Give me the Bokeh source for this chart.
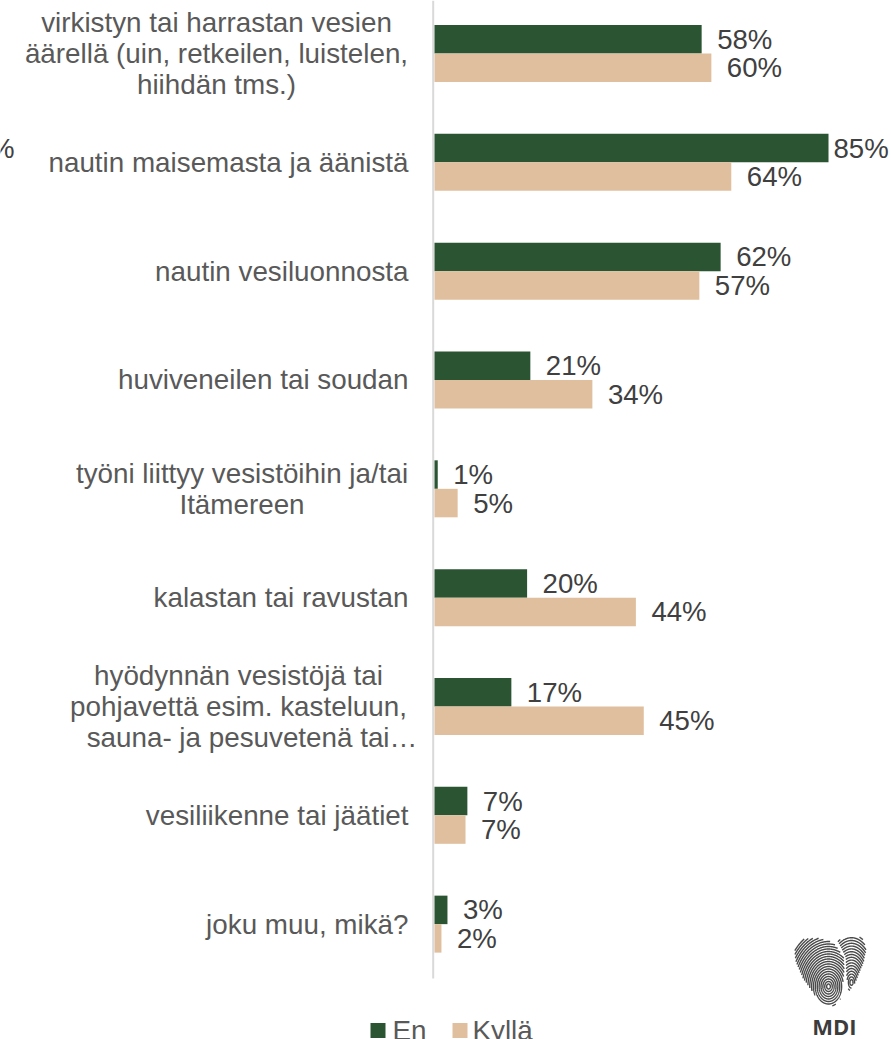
import numpy as np
from bokeh.plotting import figure
from bokeh.models import Range1d, ColumnDataSource
from bokeh.core.properties import value
from bokeh.embed import file_html
from bokeh.resources import INLINE

categories = [
    ["virkistyn tai harrastan vesien", "äärellä (uin, retkeilen, luistelen,", "hiihdän tms.)"],
    ["nautin maisemasta ja äänistä"],
    ["nautin vesiluonnosta"],
    ["huviveneilen tai soudan"],
    ["työni liittyy vesistöihin ja/tai", "Itämereen"],
    ["kalastan tai ravustan"],
    ["hyödynnän vesistöjä tai", "pohjavettä esim. kasteluun,", "sauna- ja pesuvetenä tai…"],
    ["vesiliikenne tai jäätiet"],
    ["joku muu, mikä?"],
]
en = [57.7, 85.1, 61.8, 20.7, 0.7, 20.0, 16.6, 7.1, 2.8]
kylla = [59.8, 64.1, 57.2, 34.1, 5.0, 43.5, 45.2, 6.7, 1.5]
en_labels = ["58%", "85%", "62%", "21%", "1%", "20%", "17%", "7%", "3%"]
kylla_labels = ["60%", "64%", "57%", "34%", "5%", "44%", "45%", "7%", "2%"]
DARK, TAN = "#2B5433", "#E0BF9E"
LABEL, VALUE = "#595959", "#404040"
FONT = value("Liberation Sans")
W, H = 891, 1039
X0, PX = 434.0, 4.63        # pixel of 0 %, pixels per 1 %
Y0, STEP = 53.0, 108.83     # centre of the first group, group pitch
BAR = 28.5 / STEP

p = figure(width=W, height=H, output_backend="svg", toolbar_location=None,
           x_range=Range1d(-X0 / PX, (W - X0) / PX),
           y_range=Range1d((H - Y0) / STEP, -Y0 / STEP),
           min_border=0, outline_line_color=None, x_axis_type=None, y_axis_type=None,
           margin=(0, 0, 0, 0))
p.grid.visible = False

def px(x): return (np.asarray(x) - X0) / PX
def py(y): return (np.asarray(y) - Y0) / STEP

idx = np.arange(len(en))
p.segment(x0=[float(px(432.7))] * 1, x1=[float(px(432.7))], y0=[float(py(0))], y1=[float(py(978))],
          line_color="#D9D9D9", line_width=2)
p.hbar(y=idx - BAR / 2, left=0, right=en, height=BAR, fill_color=DARK, line_color=None)
p.hbar(y=idx + BAR / 2, left=0, right=kylla, height=BAR, fill_color=TAN, line_color=None)

for vals, labs, sign in ((en, en_labels, -1), (kylla, kylla_labels, 1)):
    xo = [5 if t == "85%" else 15.5 for t in labs]
    p.text(x=vals, y=idx + sign * BAR / 2, text=labs, x_offset=xo,
           text_font=FONT, text_font_size="27.6px", text_color=VALUE,
           text_align="left", text_baseline="middle")

LINE = 31.3
centres = {0: [216, 216, 216], 4: [241.5, 241.5], 6: [238, 238, 251.5]}
xp, yp, ts, al = [], [], [], []
for i, lines in enumerate(categories):
    n = len(lines)
    for j, t in enumerate(lines):
        yp.append(i + (j - (n - 1) / 2) * LINE / STEP)
        ts.append(t)
        if n > 1:
            xp.append(float(px(centres[i][j]))); al.append("center")
        else:
            xp.append(float(px(408))); al.append("right")
src = ColumnDataSource(dict(x=xp, y=yp, t=ts, a=al))
p.text(x="x", y="y", text="t", text_align="a", source=src, text_font=FONT,
       text_font_size="27.8px", text_color=LABEL, text_baseline="middle")

p.text(x=[float(px(14))], y=[float(py(148))], text=["%"], text_font=FONT, text_font_size="27.6px",
       text_color=VALUE, text_align="right", text_baseline="middle")

# legend
p.scatter(x=[float(px(377.5)), float(px(459.5))], y=[float(py(1030))] * 2, size=15, marker="square",
          fill_color=[DARK, TAN], line_color=None)
p.text(x=[float(px(392)), float(px(472))], y=[float(py(1030))] * 2, text=["En", "Kyllä"], text_font=FONT,
       text_font_size="27.8px", text_color=LABEL, text_baseline="middle")

# logo: fingerprint heart
LOGO = "#4a4a4a"
def inside(x, y, poly):
    poly = np.array(poly, float)
    x1, y1 = poly[:, 0], poly[:, 1]
    x2, y2 = np.roll(x1, -1), np.roll(y1, -1)
    r = np.zeros_like(x, dtype=bool)
    for a, b, c, d in zip(x1, y1, x2, y2):
        cond = (b > y) != (d > y)
        r ^= cond & (x < (c - a) * (y - b) / (d - b + 1e-9) + a)
    return r
def prints(cx, cy, sx, sy, rmax, step, poly):
    out_x, out_y = [], []
    a = np.radians(np.linspace(0, 360, 360))
    for r in np.arange(step, rmax, step):
        x = cx + r * sx * np.cos(a)
        y = cy + r * sy * np.sin(a)
        m = inside(x, y, poly)
        x, y = x.copy(), y.copy()
        x[~m] = np.nan; y[~m] = np.nan
        if m.any():
            out_x.append(list(px(x))); out_y.append(list(py(y)))
    return out_x, out_y
def z(pts): return [(780 + a / 3, 925 + b / 3) for a, b in pts]
left_lobe = z([(40,60),(75,38),(120,38),(160,52),(190,95),(192,130),(188,170),(180,220),(160,242),(135,238),(105,212),(68,160),(45,110)])
right_lobe = z([(170,45),(205,32),(245,35),(258,70),(250,110),(225,170),(205,200),(198,150),(195,95)])
for args in ((828, 986, 0.75, 1.0, 60, 2.5, left_lobe), (851, 982, 0.55, 1.0, 50, 2.8, right_lobe)):
    lx, ly = prints(*args)
    p.multi_line(lx, ly, line_color=LOGO, line_width=1.4)
p.text(x=[float(px(834))], y=[float(py(1025))], text=["MDI"], text_font=value("Open Sans"),
       text_font_style="bold", text_font_size="22px", text_color="#3c3c3c",
       text_align="center", text_baseline="middle")

open("out.html", "w").write(file_html(p, INLINE))
